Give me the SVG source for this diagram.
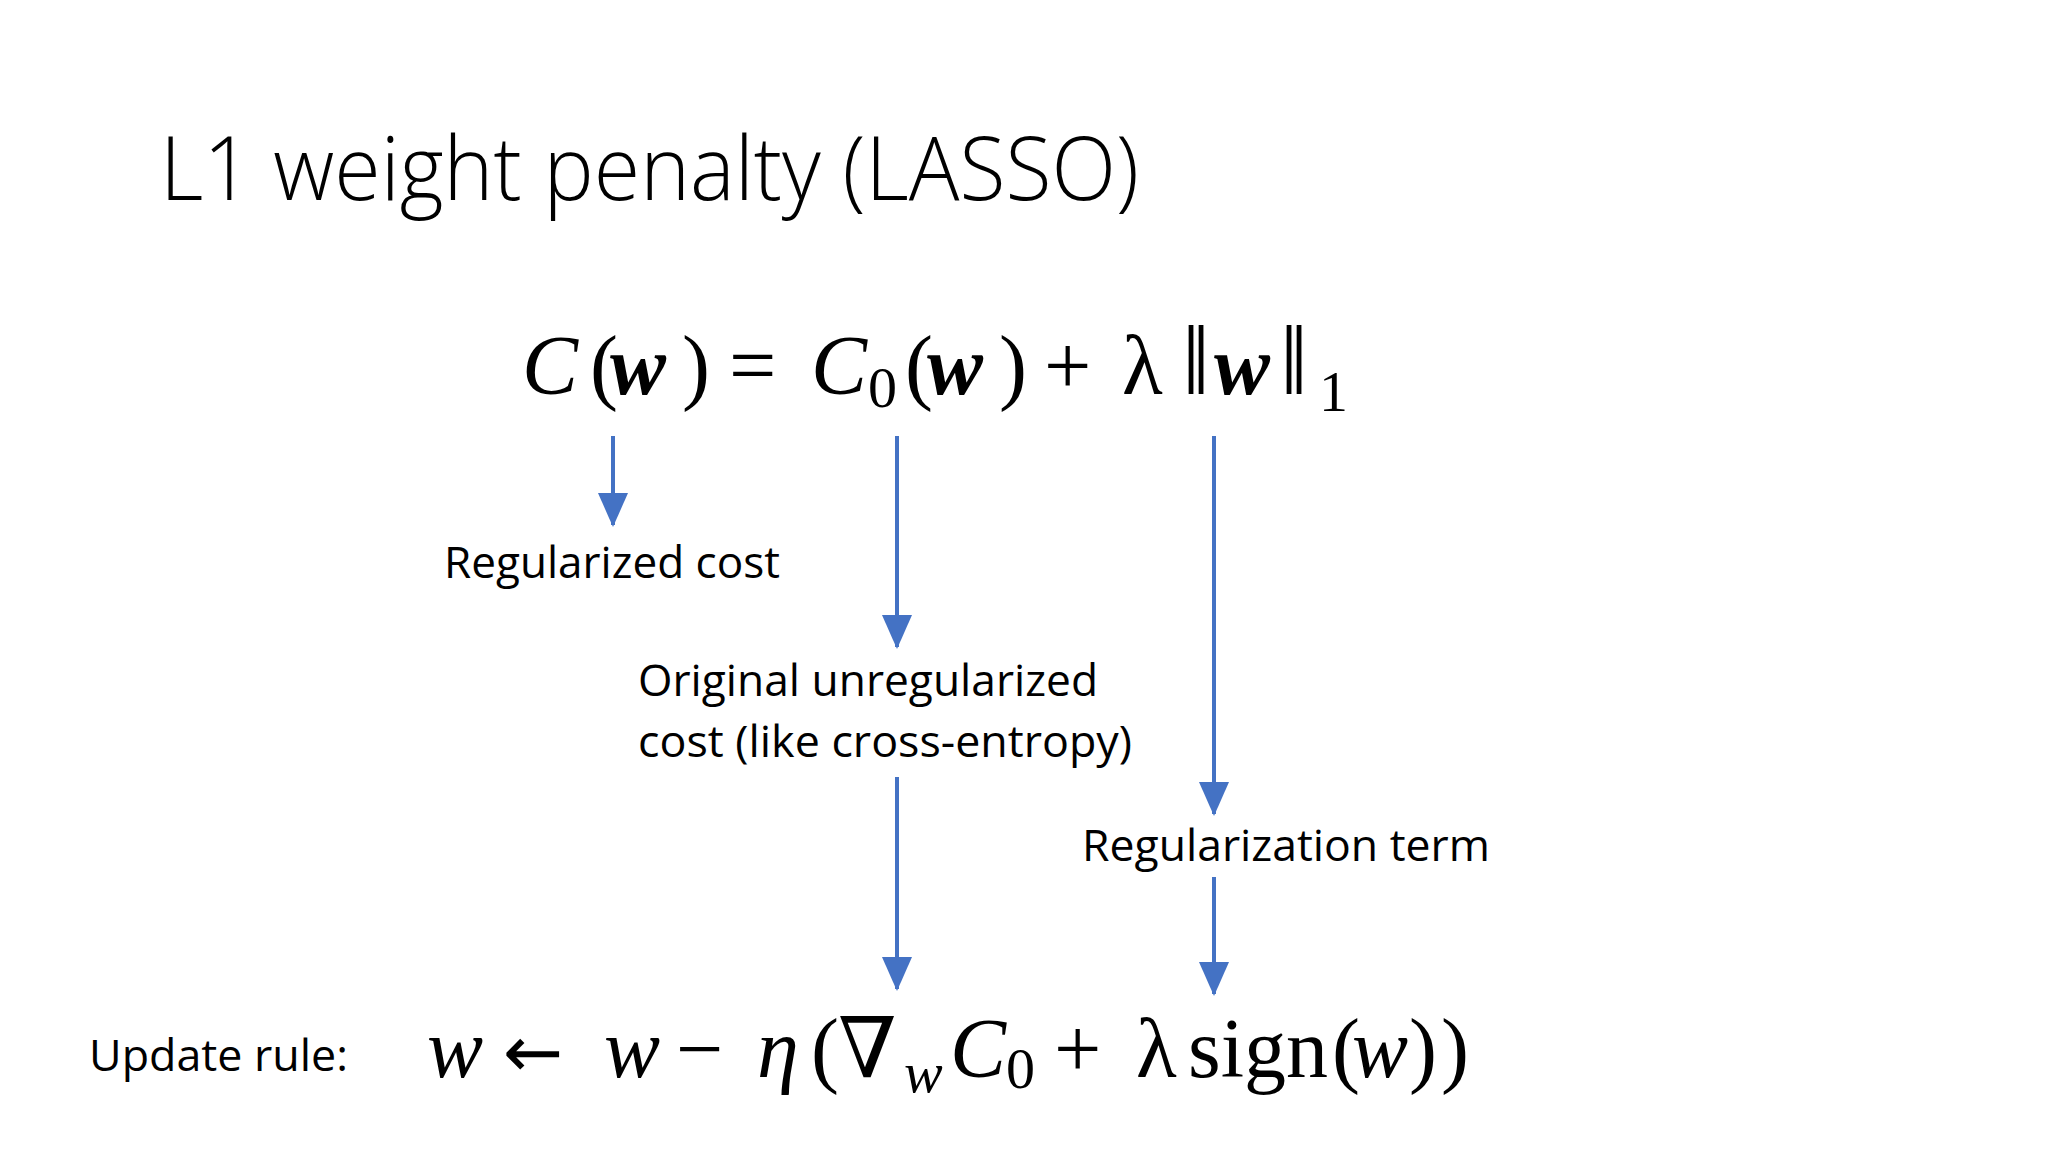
<svg xmlns="http://www.w3.org/2000/svg" width="2048" height="1152" viewBox="0 0 2048 1152">
<style>
.lbl{font-family:"Open Sans","Liberation Sans",sans-serif;font-size:44px;fill:#000}
.m{font-family:"Liberation Serif","DejaVu Serif",serif;font-size:84px;fill:#000}
.i{font-style:italic}
.b{font-weight:bold}
.s{font-size:58px}
.c{stroke:#4472C4;stroke-width:4;fill:none;marker-end:url(#ah)}
</style>
<defs>
<marker id="ah" markerUnits="userSpaceOnUse" markerWidth="34" markerHeight="32" refX="32" refY="16" orient="auto" viewBox="0 0 34 32">
<path d="M0,1 L34,16 L0,31 Z" fill="#4472C4"/>
</marker>
</defs>
<rect width="2048" height="1152" fill="#fff"/>
<text id="title" x="160" y="200" font-family="Open Sans, Liberation Sans, sans-serif" font-weight="300" font-size="88" textLength="979" lengthAdjust="spacingAndGlyphs">L1 weight penalty (LASSO)</text>
<g id="equation">
<text class="m"><tspan x="522" y="394" class="i">C</tspan><tspan x="590" y="394">(</tspan><tspan x="610" y="394" class="i b">w</tspan><tspan x="682" y="394">)</tspan><tspan x="729" y="394">=</tspan><tspan x="811" y="394" class="i">C</tspan><tspan x="868" y="407" class="s">0</tspan><tspan x="905" y="394">(</tspan><tspan x="927" y="394" class="i b">w</tspan><tspan x="999" y="394">)</tspan><tspan x="1044" y="394">+</tspan><tspan x="1122" y="394">λ</tspan><tspan x="1182" y="394" font-size="100">‖</tspan><tspan x="1214" y="394" class="i b">w</tspan><tspan x="1280" y="394" font-size="100">‖</tspan><tspan x="1319" y="411" class="s">1</tspan></text>
</g>
<g id="connectors">
<line class="c" x1="613" y1="436" x2="613" y2="525"/>
<line class="c" x1="897" y1="436" x2="897" y2="647"/>
<line class="c" x1="1214" y1="436" x2="1214" y2="814"/>
<line class="c" x1="897" y1="777" x2="897" y2="989"/>
<line class="c" x1="1214" y1="877" x2="1214" y2="994"/>
</g>
<g id="reg-cost"><text class="lbl" x="444" y="578" textLength="336" lengthAdjust="spacingAndGlyphs">Regularized cost</text></g>
<g id="orig-cost">
<text class="lbl" x="638" y="696" textLength="460" lengthAdjust="spacingAndGlyphs">Original unregularized</text>
<text class="lbl" x="638" y="757" textLength="494" lengthAdjust="spacingAndGlyphs">cost (like cross-entropy)</text>
</g>
<g id="reg-term"><text class="lbl" x="1082" y="861" textLength="408" lengthAdjust="spacingAndGlyphs">Regularization term</text></g>
<g id="update">
<text class="lbl" x="89" y="1071" textLength="259" lengthAdjust="spacingAndGlyphs">Update rule:</text>
<text class="m"><tspan x="427" y="1077" class="i">w</tspan><tspan x="503" y="1077" font-family="DejaVu Sans, sans-serif" font-size="72">←</tspan><tspan x="604" y="1077" class="i">w</tspan><tspan x="676" y="1077">−</tspan><tspan x="757" y="1077" class="i">η</tspan><tspan x="811" y="1077">(</tspan><tspan x="838" y="1077">∇</tspan><tspan x="904" y="1092" class="i s">w</tspan><tspan x="950" y="1077" class="i">C</tspan><tspan x="1006" y="1088" class="s">0</tspan><tspan x="1054" y="1077">+</tspan><tspan x="1136" y="1077">λ</tspan><tspan x="1188" y="1077">sign</tspan><tspan x="1332" y="1077">(</tspan><tspan x="1352" y="1077" class="i">w</tspan><tspan x="1409" y="1077">)</tspan><tspan x="1441" y="1077">)</tspan></text>
</g>
</svg>
